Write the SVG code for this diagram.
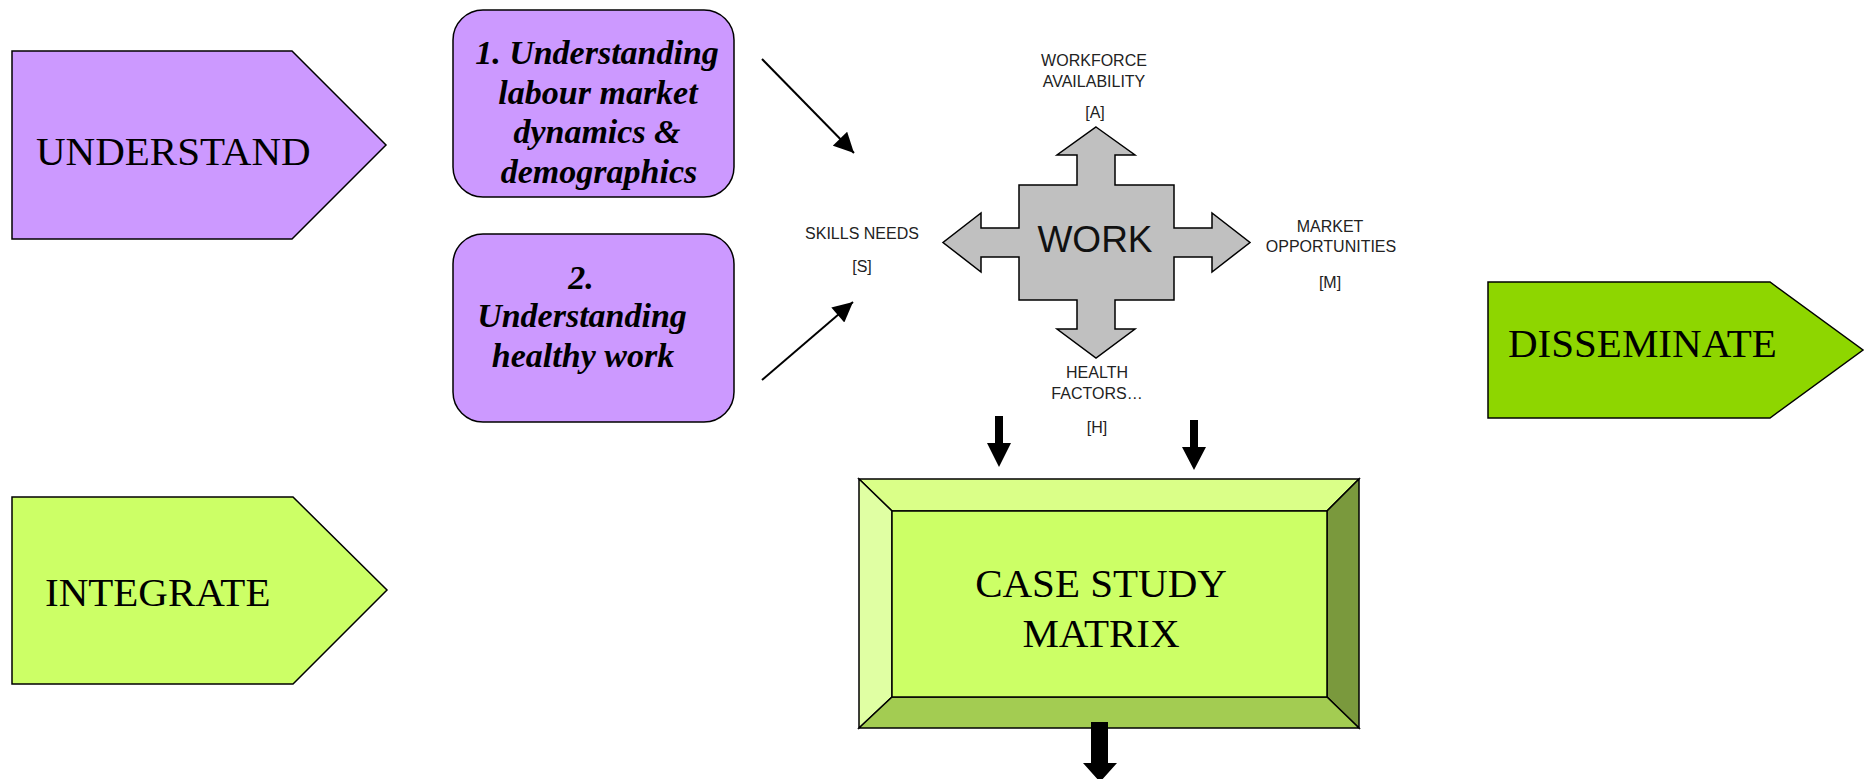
<svg xmlns="http://www.w3.org/2000/svg" width="1866" height="779" viewBox="0 0 1866 779">
<defs>
<style>
.shape{stroke:#000;stroke-width:1.5;stroke-linejoin:miter}
.big{font-family:"Liberation Serif","Times New Roman",serif;font-size:41px;fill:#000}
.bi{font-family:"Liberation Serif","Times New Roman",serif;font-size:34px;font-weight:bold;font-style:italic;fill:#000;text-anchor:middle}
.lbl{font-family:"Liberation Sans",Arial,sans-serif;font-size:16px;fill:#222;text-anchor:middle}
.conn{stroke:#000;stroke-width:2;fill:none}
.blk{fill:#000;stroke:none}
</style>
<marker id="ah" viewBox="0 0 10 10" refX="10" refY="5" markerWidth="11" markerHeight="10" markerUnits="strokeWidth" orient="auto">
<path d="M0,0 L10,5 L0,10 z" fill="#000"/>
</marker>
</defs>
<rect width="1866" height="779" fill="#fff"/>

<g id="understand">
<polygon class="shape" fill="#CC99FF" points="12,51 292,51 386,145 292,239 12,239"/>
<text class="big" x="36" y="165">UNDERSTAND</text>
</g>

<g id="integrate">
<polygon class="shape" fill="#CCFF66" points="12,497 293,497 387,590 293,684 12,684"/>
<text class="big" x="45" y="606">INTEGRATE</text>
</g>

<g id="disseminate">
<polygon class="shape" fill="#8ED600" points="1488,282 1770,282 1863,350 1770,418 1488,418"/>
<text class="big" x="1508" y="357">DISSEMINATE</text>
</g>

<g id="box1">
<rect class="shape" fill="#CC99FF" x="453" y="10" width="281" height="187" rx="30" ry="30"/>
<text class="bi" x="597" y="64">1. Understanding</text>
<text class="bi" x="598" y="104">labour market</text>
<text class="bi" x="597" y="143">dynamics &amp;</text>
<text class="bi" x="599" y="183">demographics</text>
</g>

<g id="box2">
<rect class="shape" fill="#CC99FF" x="453" y="234" width="281" height="188" rx="30" ry="30"/>
<text class="bi" x="581" y="289">2.</text>
<text class="bi" x="582" y="327">Understanding</text>
<text class="bi" x="583" y="367">healthy work</text>
</g>

<g id="work">
<polygon class="shape" fill="#C0C0C0" points="1096,127 1135,155 1115,155 1115,185 1174,185 1174,228 1212,228 1212,213 1250,242.5 1212,272 1212,257 1174,257 1174,300 1115,300 1115,329 1135,329 1096,358 1057,329 1077,329 1077,300 1019,300 1019,257 981,257 981,272 943,242.5 981,213 981,228 1019,228 1019,185 1077,185 1077,155 1057,155"/>
<text x="1095" y="252" text-anchor="middle" font-family="Liberation Sans,Arial,sans-serif" font-size="37" fill="#111">WORK</text>
</g>

<g id="label-a">
<text class="lbl" x="1094" y="66">WORKFORCE</text>
<text class="lbl" x="1094" y="87">AVAILABILITY</text>
<text class="lbl" x="1095" y="118">[A]</text>
</g>
<g id="label-s">
<text class="lbl" x="862" y="239">SKILLS NEEDS</text>
<text class="lbl" x="862" y="272">[S]</text>
</g>
<g id="label-m">
<text class="lbl" x="1330" y="232">MARKET</text>
<text class="lbl" x="1331" y="252">OPPORTUNITIES</text>
<text class="lbl" x="1330" y="288">[M]</text>
</g>
<g id="label-h">
<text class="lbl" x="1097" y="378">HEALTH</text>
<text class="lbl" x="1097" y="399">FACTORS…</text>
<text class="lbl" x="1097" y="433">[H]</text>
</g>

<g id="casestudy">
<polygon class="shape" fill="#DAFF88" points="859,479 1359,479 1327,511 892,511"/>
<polygon class="shape" fill="#E0FFA3" points="859,479 892,511 892,697 859,728"/>
<polygon class="shape" fill="#7A993D" points="1359,479 1359,728 1327,697 1327,511"/>
<polygon class="shape" fill="#A3CC52" points="859,728 892,697 1327,697 1359,728"/>
<rect class="shape" fill="#CCFF66" x="892" y="511" width="435" height="186"/>
<text class="big" x="1101" y="597" text-anchor="middle" font-size="40">CASE STUDY</text>
<text class="big" x="1101" y="647" text-anchor="middle" font-size="40">MATRIX</text>
</g>

<g id="connectors">
<line class="conn" x1="762" y1="59" x2="854" y2="153" marker-end="url(#ah)"/>
<line class="conn" x1="762" y1="380" x2="853" y2="302" marker-end="url(#ah)"/>
<polygon class="blk" points="995,416 1003,416 1003,443 1011,443 999,467 987,443 995,443"/>
<polygon class="blk" points="1190,420 1198,420 1198,447 1206,447 1194,470 1182,447 1190,447"/>
<polygon class="blk" points="1091,722 1108,722 1108,763 1117,763 1100,782 1083,763 1091,763"/>
</g>
</svg>
